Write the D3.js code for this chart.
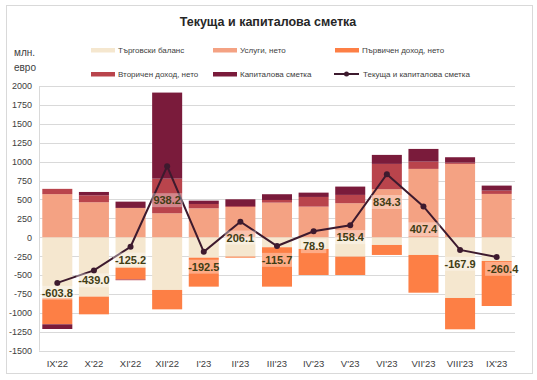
<!DOCTYPE html>
<html><head><meta charset="utf-8">
<script src="https://cdn.jsdelivr.net/npm/d3@7/dist/d3.min.js"></script>
<style>
body{margin:0;background:#fff;}
svg{display:block;font-family:"Liberation Sans Narrow","Arial Narrow","Liberation Sans",Arial,sans-serif;}
</style></head>
<body><svg id="c" width="537" height="380"></svg>
<script>
const categories = ["IX'22","X'22","XI'22","XII'22","I'23","II'23","III'23","IV'23","V'23","VI'23","VII'23","VIII'23","IX'23"];
const tradeBalance   = [-807,-785,-402,-697,-270,-256,-132,-155,-256,-102,-234,-803,-314];
const servicesNet    = [570,463,388,317,383,400,458,405,450,635,904,970,573];
const primaryIncome  = [-344,-234,-154,-256,-383,-14,-521,-344,-243,-132,-499,-414,-595];
const secondaryIncome= [70,92,-12,458,57,12,35,128,110,335,96,17,44];
const capitalAccount = [-62,44,83,1138,44,90,76,57,110,119,168,71,66];
const currentCapital = [-603.8,-439.0,-125.2,938.2,-192.5,206.1,-115.7,78.9,158.4,834.3,407.4,-167.9,-260.4];
const yTicks = [2000,1750,1500,1250,1000,750,500,250,0,-250,-500,-750,-1000,-1250,-1500];
const seriesNames = ["Търговски баланс","Услуги, нето","Първичен доход, нето","Вторичен доход, нето","Капиталова сметка"];
const lineName = "Текуща и капиталова сметка";
const title = "Текуща и капиталова сметка";

const colors = ["#f5e7cf","#f4a283","#fd7f45","#b9444c","#7a1b3b"];
const lineColor = "#3d1a2e";
const labelNudge = [10,10,13,34,15,16,14,15,12,28,23,14,12];
const labelDx = [0,0,0,0,0,0,0,0,0,0,0,0,6];
const hy = s => s.replace(/\u2212/g,"-");

const svg = d3.select("#c");
svg.append("rect").attr("x",6.5).attr("y",5.5).attr("width",526).attr("height",368)
  .attr("fill","#fff").attr("stroke","#d9d9d9");

svg.append("text").attr("x",268).attr("y",26).attr("text-anchor","middle")
  .attr("font-size",12.5).attr("font-weight","bold").attr("fill","#262626").text(title);

svg.append("text").attr("x",14).attr("y",56).attr("font-size",10).attr("fill","#404040").text("млн.");
svg.append("text").attr("x",14).attr("y",71).attr("font-size",10).attr("fill","#404040").text("евро");

const x = d3.scaleBand().domain(categories).range([39,515]).paddingInner(0.18).paddingOuter(0.09);
const y = d3.scaleLinear().domain([-1500,2000]).range([350.7,86]);

// grid
svg.append("g").selectAll("line").data(yTicks).join("line")
  .attr("x1",39).attr("x2",515).attr("y1",d=>Math.round(y(d))+0.5).attr("y2",d=>Math.round(y(d))+0.5)
  .attr("stroke","#d9d9d9").attr("stroke-width",1);
svg.append("line").attr("x1",39.5).attr("x2",39.5).attr("y1",y(2000)).attr("y2",y(-1500)).attr("stroke","#d9d9d9");

const yAxis = d3.axisLeft(y).tickValues(yTicks).tickSize(0).tickPadding(7).tickFormat(d=>String(d));
const ga = svg.append("g").attr("transform","translate(39,0)").call(yAxis);
ga.select(".domain").remove();
ga.selectAll("text").attr("font-size",9).attr("fill","#404040").attr("font-family","inherit");

const xAxis = d3.axisBottom(x).tickSize(0).tickPadding(10);
const gx = svg.append("g").attr("transform","translate(0,"+y(-1500)+")").call(xAxis);
gx.select(".domain").remove();
gx.selectAll("text").attr("font-size",9.5).attr("fill","#404040").attr("font-family","inherit");

// stacked bars
const rows = categories.map((c,i)=>({cat:c, s0:tradeBalance[i], s1:servicesNet[i], s2:primaryIncome[i], s3:secondaryIncome[i], s4:capitalAccount[i]}));
const keys = ["s0","s1","s2","s3","s4"];
const stack = d3.stack().keys(keys).offset(d3.stackOffsetDiverging).order(d3.stackOrderNone)(rows);
svg.append("g").selectAll("g").data(stack).join("g").attr("fill",(d,i)=>colors[i])
  .selectAll("rect").data(d=>d).join("rect")
  .attr("x",d=>x(d.data.cat)).attr("width",x.bandwidth())
  .attr("y",d=>y(Math.max(d[0],d[1]))).attr("height",d=>Math.abs(y(d[0])-y(d[1])));

// line
const cx = c=>x(c)+x.bandwidth()/2;
const line = d3.line().x((d,i)=>cx(categories[i])).y(d=>y(d));
svg.append("path").datum(currentCapital).attr("d",line).attr("fill","none")
  .attr("stroke",lineColor).attr("stroke-width",2);
svg.append("g").selectAll("circle").data(currentCapital).join("circle")
  .attr("cx",(d,i)=>cx(categories[i])).attr("cy",d=>y(d)).attr("r",3).attr("fill",lineColor);

// labels
const lg = svg.append("g");
currentCapital.forEach((v,i)=>{
  const tx = cx(categories[i])+labelDx[i], ty = y(v)+labelNudge[i];
  const t = lg.append("text").attr("x",tx).attr("y",ty).attr("dy","0.35em").attr("text-anchor","middle")
    .attr("font-size",11).attr("font-weight","bold").attr("fill","#3f3d14").text(hy(d3.format(".1f")(v)));
  const bb = t.node().getBBox();
  lg.insert("rect","text").attr("x",bb.x-2).attr("y",bb.y-1).attr("width",bb.width+4).attr("height",bb.height+2)
    .attr("fill","#fff").attr("fill-opacity",0.35);
});

// legend
const leg = [
  {x:91,y:50,t:0},{x:213,y:50,t:1},{x:335,y:50,t:2},
  {x:91,y:74,t:3},{x:213,y:74,t:4}
];
leg.forEach(l=>{
  svg.append("rect").attr("x",l.x).attr("y",l.y-2).attr("width",24).attr("height",4.5).attr("fill",colors[l.t]);
  svg.append("text").attr("x",l.x+27).attr("y",l.y).attr("dy","0.35em").attr("font-size",8).attr("fill","#404040").text(seriesNames[l.t]);
});
svg.append("line").attr("x1",334).attr("x2",359).attr("y1",74).attr("y2",74).attr("stroke",lineColor).attr("stroke-width",2);
svg.append("circle").attr("cx",346.5).attr("cy",74).attr("r",2.5).attr("fill",lineColor);
svg.append("text").attr("x",363).attr("y",74).attr("dy","0.35em").attr("font-size",8).attr("fill","#404040").text(lineName);
</script></body></html>
